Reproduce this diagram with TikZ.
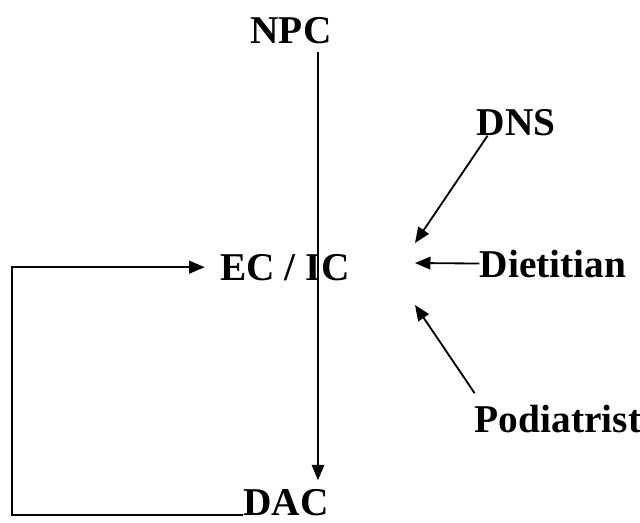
\documentclass[tikz,border=0pt]{standalone}
\usepackage{fontspec}
\setmainfont{Liberation Serif}
\usetikzlibrary{arrows.meta}
\begin{document}
\begin{tikzpicture}[x=0.025cm, y=-0.025cm, font=\fontsize{28}{30}\selectfont\bfseries,
    every node/.style={inner sep=0pt, anchor=base},
    arr/.style={-{Triangle[length=11pt,width=9pt]}, line width=1.3pt}]
    \useasboundingbox (0,0) rectangle (640,522);
    \node (npc) at (291,43) {NPC};
    \node (ec) at (285,280) {EC / IC};
    \node (dac) at (286,515) {DAC};
    \node (dns) at (516,135) {DNS};
    \node (diet) at (553,277) {Dietitian};
    \node (pod) at (558,432) {Podiatrist};
    \coordinate (axis) at (318,0);
    \coordinate (corner) at (12,515);
    \coordinate (dnsin) at (415,243);
    \coordinate (dietin) at (415,263);
    \coordinate (podin) at (415,305);
    \draw[arr, line width=1pt] ([yshift=-6pt]npc.south -| axis) -- ([yshift=6pt]dac.north -| axis);
    \draw[arr] (dac.base west) -- (corner) |- ([xshift=-11pt]ec.west);
    \draw[arr] ([xshift=8pt]dns.south west) -- (dnsin);
    \draw[arr] (diet.west) -- (dietin);
    \draw[arr] ([yshift=8pt]pod.north west) -- (podin);
\end{tikzpicture}
\end{document}
